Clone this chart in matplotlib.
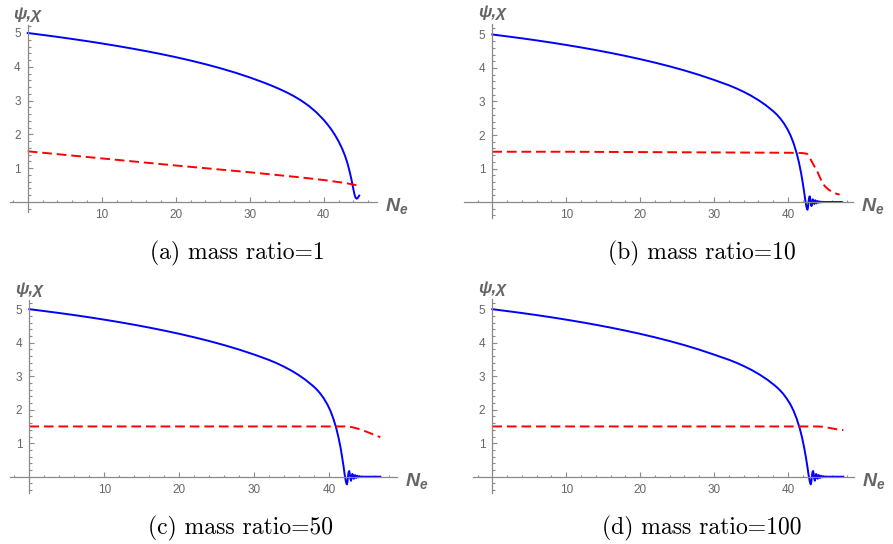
import matplotlib
matplotlib.use("Agg")
import matplotlib.pyplot as plt
from matplotlib.ticker import FixedLocator

plt.rcParams["mathtext.fontset"] = "custom"
plt.rcParams["mathtext.it"] = "Liberation Sans:italic:bold"
plt.rcParams["mathtext.rm"] = "Liberation Sans:bold"
plt.rcParams["mathtext.bf"] = "Liberation Sans:bold"

W, H = 893, 544
AXC = "#8a8a8a"
LBL = "#666666"
BLUE = "#0000ff"
RED = "#ff0000"

CAPTIONS = ["(a) mass ratio=1", "(b) mass ratio=10",
            "(c) mass ratio=50", "(d) mass ratio=100"]

# --- (a) mass ratio = 1 ---
n_psi_a = [0, 2, 4, 6, 8, 10, 12, 14, 16, 18, 20, 22, 24, 26, 28, 30, 32, 33,
           34, 35, 36, 37, 38, 39, 40, 40.5, 41, 41.5, 42, 42.5, 42.9, 43.2,
           43.5, 43.75, 44.0, 44.15, 44.3, 44.45, 44.6, 44.8]
psi_a = [5.0, 4.944, 4.886, 4.824, 4.76, 4.692, 4.62, 4.544, 4.464, 4.378,
         4.286, 4.186, 4.078, 3.96, 3.83, 3.686, 3.526, 3.439, 3.345, 3.243,
         3.128, 2.996, 2.841, 2.656, 2.431, 2.30, 2.155, 1.99, 1.80, 1.575,
         1.355, 1.154, 0.908, 0.666, 0.391, 0.233, 0.128, 0.098, 0.12, 0.19]
n_chi_a = [0, 10, 20, 30, 36.8, 40, 43, 44.8]
chi_a = [1.5, 1.29, 1.08, 0.88, 0.73, 0.65, 0.56, 0.48]

# --- (b) mass ratio = 10 ---
n_psi_b = [0, 2, 4, 6, 8, 10, 12, 14, 16, 18, 20, 22, 24, 26, 28, 30, 32, 33,
           34, 35, 36, 37, 38, 38.5, 39, 39.5, 40, 40.4, 40.8, 41.2, 41.5, 41.8,
           42.0, 42.2, 42.35, 42.5, 42.58, 42.65,
           42.72, 42.8, 42.88, 42.96, 43.04, 43.12, 43.2, 43.28, 43.36, 43.43,
           43.5, 43.58, 43.66, 43.73, 43.8, 43.88, 43.95, 44.03, 44.1, 44.18,
           44.25, 44.33, 44.4, 44.48, 44.58, 44.68, 44.78, 44.88, 45.0, 47.3]
psi_b = [5.0, 4.944, 4.886, 4.824, 4.758, 4.688, 4.614, 4.535, 4.451, 4.361,
         4.265, 4.161, 4.049, 3.927, 3.793, 3.645, 3.486, 3.394, 3.291, 3.175,
         3.043, 2.891, 2.713, 2.61, 2.485, 2.335, 2.15, 1.966, 1.734, 1.446,
         1.176, 0.846, 0.586, 0.296, 0.063, -0.132, -0.2, -0.23,
         -0.15, 0.02, 0.14, 0.17, 0.08, -0.07, -0.12, -0.03, 0.08, 0.07,
         -0.03, -0.06, 0.02, 0.05, -0.01, -0.04, 0.01, 0.03, -0.01, -0.02,
         0.01, 0.015, -0.008, -0.01, 0.007, -0.005, 0.004, -0.003, 0.0, 0.0]
n_chi_b = [0, 10, 20, 30, 40, 42, 42.6, 43.0, 43.5, 44.0, 44.5, 45.0, 45.5,
           46.0, 46.5, 47.0]
chi_b = [1.5, 1.5, 1.49, 1.48, 1.47, 1.46, 1.44, 1.3, 1.1, 0.9, 0.65, 0.47,
         0.37, 0.3, 0.25, 0.22]

# --- (c) mass ratio = 50 ---
n_psi_c = [0, 2, 4, 6, 8, 10, 12, 14, 16, 18, 20, 22, 24, 26, 28, 30, 31.95,
           32.93, 33.9, 34.88, 35.86, 36.83, 37.81, 38.3, 38.79, 39.27, 39.76,
           40.15, 40.54, 40.93, 41.22, 41.52, 41.71, 41.91, 42.05, 42.2, 42.28,
           42.35,
           42.42, 42.5, 42.58, 42.66, 42.74, 42.82, 42.9, 42.98, 43.06, 43.13,
           43.2, 43.28, 43.36, 43.43, 43.5, 43.58, 43.65, 43.73, 43.8, 43.88,
           43.95, 44.03, 44.1, 44.18, 44.28, 44.38, 44.48, 44.58, 44.7, 46.8]
psi_c = [5.0, 4.944, 4.886, 4.824, 4.758, 4.688, 4.614, 4.535, 4.451, 4.361,
         4.265, 4.161, 4.049, 3.927, 3.793, 3.645, 3.486, 3.394, 3.291, 3.175,
         3.043, 2.891, 2.713, 2.61, 2.485, 2.335, 2.15, 1.966, 1.734, 1.446,
         1.176, 0.846, 0.586, 0.296, 0.063, -0.132, -0.2, -0.23,
         -0.15, 0.02, 0.14, 0.17, 0.08, -0.07, -0.12, -0.03, 0.08, 0.07,
         -0.03, -0.06, 0.02, 0.05, -0.01, -0.04, 0.01, 0.03, -0.01, -0.02,
         0.01, 0.015, -0.008, -0.01, 0.007, -0.005, 0.004, -0.003, 0.0, 0.0]
n_chi_c = [0, 10, 20, 30, 40, 42.3, 43.0, 44.0, 45.0, 46.0, 46.8]
chi_c = [1.5, 1.5, 1.5, 1.5, 1.5, 1.5, 1.48, 1.42, 1.34, 1.25, 1.18]

# --- (d) mass ratio = 100 ---
n_psi_d = [0, 2, 4, 6, 8, 10, 12, 14, 16, 18, 20, 22, 24, 26, 28, 30, 32.07,
           33.11, 34.14, 35.18, 36.21, 37.25, 38.28, 38.8, 39.32, 39.84, 40.36,
           40.77, 41.18, 41.6, 41.91, 42.22, 42.43, 42.64, 42.79, 42.95, 43.03,
           43.1,
           43.17, 43.25, 43.33, 43.41, 43.49, 43.57, 43.65, 43.73, 43.81, 43.88,
           43.95, 44.03, 44.11, 44.18, 44.25, 44.33, 44.4, 44.48, 44.55, 44.63,
           44.7, 44.78, 44.85, 44.93, 45.03, 45.13, 45.23, 45.33, 45.45, 47.5]
psi_d = [5.0, 4.944, 4.886, 4.824, 4.758, 4.688, 4.614, 4.535, 4.451, 4.361,
         4.265, 4.161, 4.049, 3.927, 3.793, 3.645, 3.486, 3.394, 3.291, 3.175,
         3.043, 2.891, 2.713, 2.61, 2.485, 2.335, 2.15, 1.966, 1.734, 1.446,
         1.176, 0.846, 0.586, 0.296, 0.063, -0.132, -0.2, -0.23,
         -0.15, 0.02, 0.14, 0.17, 0.08, -0.07, -0.12, -0.03, 0.08, 0.07,
         -0.03, -0.06, 0.02, 0.05, -0.01, -0.04, 0.01, 0.03, -0.01, -0.02,
         0.01, 0.015, -0.008, -0.01, 0.007, -0.005, 0.004, -0.003, 0.0, 0.0]
n_chi_d = [0, 10, 20, 30, 40, 44.0, 44.7, 45.5, 46.5, 47.5]
chi_d = [1.5, 1.5, 1.5, 1.5, 1.5, 1.5, 1.49, 1.46, 1.42, 1.39]

panels = [
    (n_psi_a, psi_a, n_chi_a, chi_a),
    (n_psi_b, psi_b, n_chi_b, chi_b),
    (n_psi_c, psi_c, n_chi_c, chi_c),
    (n_psi_d, psi_d, n_chi_d, chi_d),
]

# pixel geometry of each panel: origin (px), px per unit, limits
geom = [
    dict(x0=27.7, sx=7.4, y0=202.0, sy=33.8, xlim=(-2.4, 47.2), ylim=(-0.3, 5.24)),
    dict(x0=492.3, sx=7.39, y0=202.0, sy=33.5, xlim=(-3.8, 48.8), ylim=(-0.49, 5.32)),
    dict(x0=29.3, sx=7.5, y0=476.7, sy=33.5, xlim=(-2.6, 49.0), ylim=(-0.49, 5.27)),
    dict(x0=492.3, sx=7.39, y0=476.7, sy=33.5, xlim=(-2.6, 48.9), ylim=(-0.49, 5.3)),
]
cap_xy = [(237, 253), (702, 253), (240, 528), (702, 528)]

fig = plt.figure(figsize=(W / 100, H / 100), dpi=100)

for (nx, psi, nc, chi), g, cap, (cx, cy) in zip(panels, geom, CAPTIONS, cap_xy):
    left = g["x0"] + g["xlim"][0] * g["sx"]
    right = g["x0"] + g["xlim"][1] * g["sx"]
    top = g["y0"] - g["ylim"][1] * g["sy"]
    bot = g["y0"] - g["ylim"][0] * g["sy"]
    ax = fig.add_axes([left / W, 1 - bot / H, (right - left) / W, (bot - top) / H])
    ax.set_xlim(*g["xlim"])
    ax.set_ylim(*g["ylim"])
    ax.patch.set_alpha(0)

    ax.plot(nx, psi, color=BLUE, lw=1.4, solid_joinstyle="round")
    ax.plot(nc, chi, color=RED, lw=1.4, dashes=(5, 2.5))

    for s in ["top", "right"]:
        ax.spines[s].set_visible(False)
    ax.spines["left"].set_position(("data", 0))
    ax.spines["bottom"].set_position(("data", 0))
    for s in ["left", "bottom"]:
        ax.spines[s].set_color(AXC)
        ax.spines[s].set_linewidth(0.9)

    ax.xaxis.set_major_locator(FixedLocator([10, 20, 30, 40]))
    ax.xaxis.set_minor_locator(FixedLocator([v for v in range(-2, 49, 2) if v % 10]))
    ax.yaxis.set_major_locator(FixedLocator([1, 2, 3, 4, 5]))
    ax.yaxis.set_minor_locator(FixedLocator(
        [round(0.2 * k, 1) for k in range(-2, 27) if k % 5]))
    ax.tick_params(which="both", direction="in", color=AXC, width=0.8,
                   labelcolor=LBL, labelsize=8.5)
    ax.tick_params(which="major", length=3.5)
    ax.tick_params(which="minor", length=1.8)
    ax.tick_params(axis="x", pad=5)
    ax.tick_params(axis="y", pad=5)
    for t in ax.get_xticklabels() + ax.get_yticklabels():
        t.set_fontfamily("Liberation Sans")

    ax.text(0, g["ylim"][1] + 0.1, "ψ,χ", ha="center", va="bottom",
            fontsize=12.5, fontweight="bold", style="italic",
            family="Liberation Sans", color=LBL, clip_on=False)
    ax.annotate("$N_e$", xy=(g["xlim"][1], 0), xytext=(6, -3),
                textcoords="offset points", ha="left", va="center",
                fontsize=14, color=LBL, annotation_clip=False)

    fig.text(cx / W, 1 - cy / H, cap, ha="center", va="center",
             fontsize=17, family="cmr10")

fig.savefig("out.png", dpi=100)
